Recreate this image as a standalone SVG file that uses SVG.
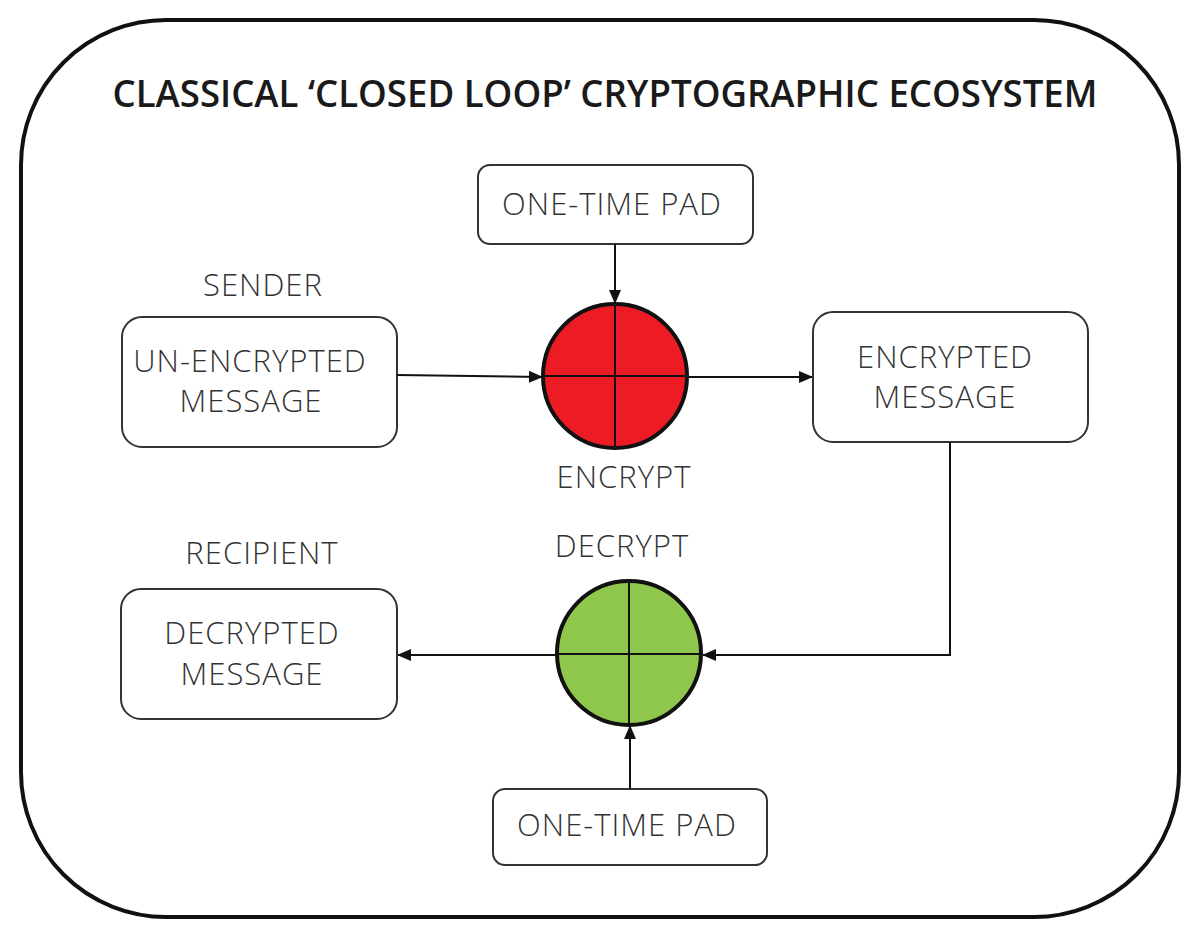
<svg xmlns="http://www.w3.org/2000/svg" width="1200" height="940" viewBox="0 0 1200 940">
<style>
.frame{fill:#fff;stroke:#111;stroke-width:4}
.box{fill:#fff;stroke:#333;stroke-width:2}
.lbl{font-family:"Open Sans","Noto Sans",sans-serif;font-weight:300;font-size:31px;letter-spacing:1px;fill:#333;text-anchor:middle}
.title{font-family:"Open Sans","Noto Sans",sans-serif;font-weight:600;font-size:37px;fill:#1a1a1a;text-anchor:middle}
.conn{fill:none;stroke:#111;stroke-width:2}
.circ{stroke:#111;stroke-width:4}
.cross{stroke:#111;stroke-width:2}
</style>
<defs>
<marker id="arr" markerWidth="14" markerHeight="12" refX="13" refY="6" orient="auto" markerUnits="userSpaceOnUse">
<path d="M0,0 L14,6 L0,12 Z" fill="#111"/>
</marker>
</defs>
<rect class="frame" x="21" y="20" width="1158" height="897" rx="145" ry="145"/>
<text class="title" x="605" y="107" textLength="985" lengthAdjust="spacingAndGlyphs">CLASSICAL ‘CLOSED LOOP’ CRYPTOGRAPHIC ECOSYSTEM</text>

<g id="otp-top">
<rect class="box" x="478" y="165" width="275" height="79" rx="12"/>
<text class="lbl" x="612" y="215">ONE-TIME PAD</text>
</g>
<g id="sender-label"><text class="lbl" x="263" y="296">SENDER</text></g>
<g id="unencrypted">
<rect class="box" x="122" y="317" width="275" height="130" rx="20"/>
<text class="lbl" x="250" y="372">UN-ENCRYPTED</text>
<text class="lbl" x="251" y="412">MESSAGE</text>
</g>
<g id="encrypt">
<circle class="circ" cx="615" cy="376" r="72" fill="#ED1C24"/>
<line class="cross" x1="615" y1="304" x2="615" y2="448"/>
<line class="cross" x1="543" y1="376" x2="687" y2="376"/>
<text class="lbl" x="624" y="488">ENCRYPT</text>
</g>
<g id="encrypted">
<rect class="box" x="813" y="312" width="275" height="130" rx="20"/>
<text class="lbl" x="945" y="368">ENCRYPTED</text>
<text class="lbl" x="945" y="408">MESSAGE</text>
</g>
<g id="decrypt">
<text class="lbl" x="622" y="557">DECRYPT</text>
<circle class="circ" cx="629" cy="653" r="72" fill="#8FC74C"/>
<line class="cross" x1="629" y1="581" x2="629" y2="725"/>
<line class="cross" x1="557" y1="654" x2="701" y2="654"/>
</g>
<g id="recipient-label"><text class="lbl" x="262" y="564">RECIPIENT</text></g>
<g id="decrypted">
<rect class="box" x="121" y="589" width="276" height="130" rx="20"/>
<text class="lbl" x="252" y="644">DECRYPTED</text>
<text class="lbl" x="252" y="685">MESSAGE</text>
</g>
<g id="otp-bottom">
<rect class="box" x="493" y="789" width="274" height="76" rx="12"/>
<text class="lbl" x="627" y="836">ONE-TIME PAD</text>
</g>

<g id="connectors">
<line class="conn" x1="615" y1="244" x2="615" y2="303" marker-end="url(#arr)"/>
<line class="conn" x1="397" y1="375" x2="542" y2="377" marker-end="url(#arr)"/>
<line class="conn" x1="687" y1="377" x2="812" y2="377" marker-end="url(#arr)"/>
<polyline class="conn" points="950,442 950,655 703,655" marker-end="url(#arr)"/>
<line class="conn" x1="557" y1="655" x2="398" y2="655" marker-end="url(#arr)"/>
<line class="conn" x1="630" y1="789" x2="630" y2="726" marker-end="url(#arr)"/>
</g>
</svg>
